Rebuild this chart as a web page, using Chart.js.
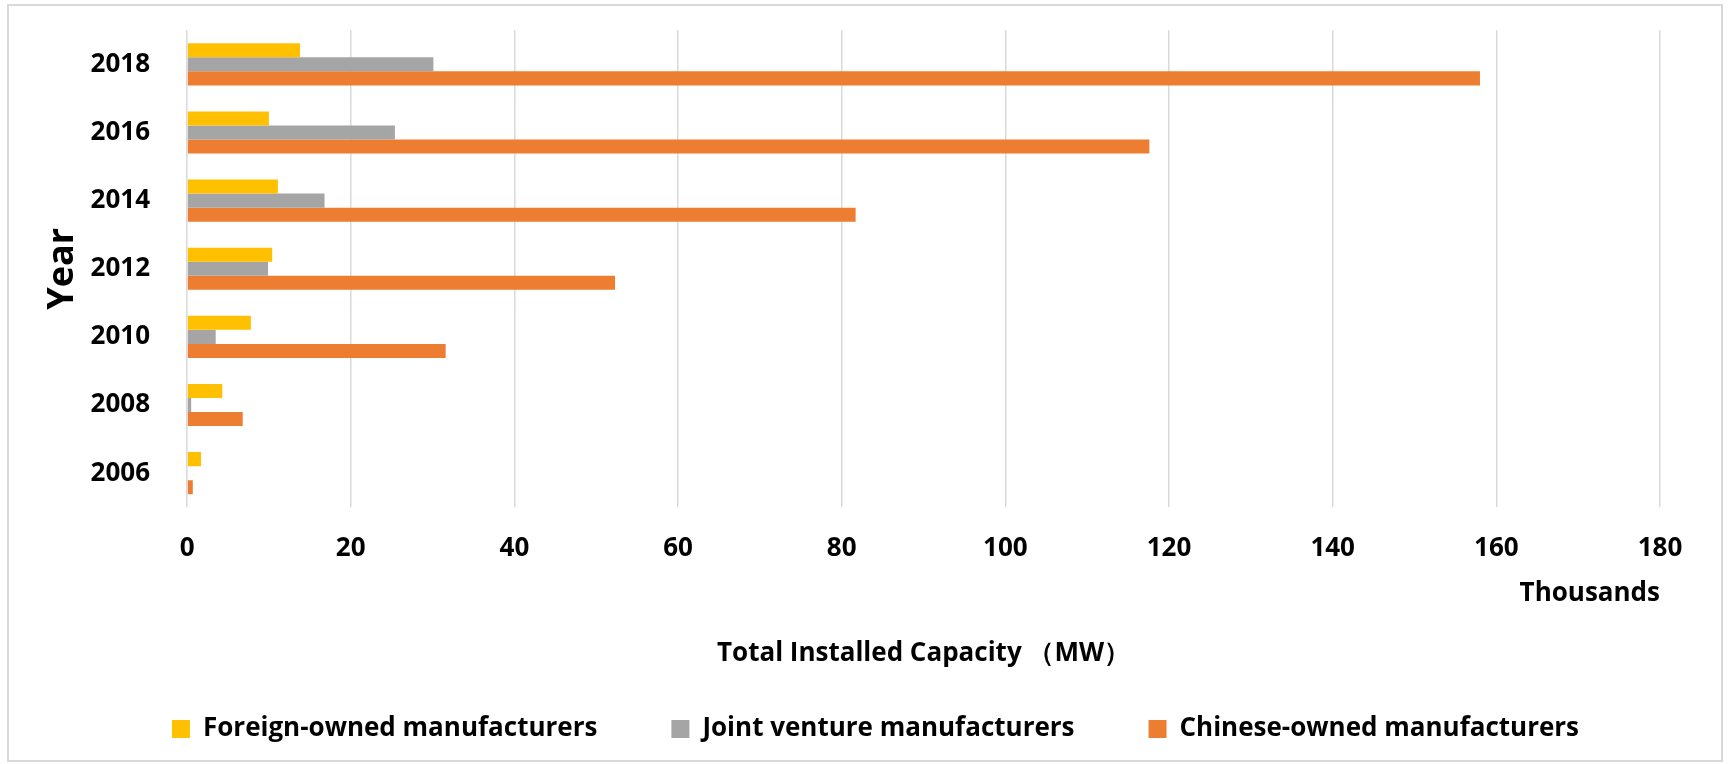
<!DOCTYPE html>
<html>
<head>
<meta charset="utf-8">
<script src="https://cdn.jsdelivr.net/npm/chart.js@4.4.1/dist/chart.umd.min.js"></script>
<style>
html,body{margin:0;padding:0;background:#fff;}
#wrap{width:1730px;height:764px;position:relative;}
canvas{display:block;}
</style>
</head>
<body>
<div id="wrap"><canvas id="c" width="1730" height="764"></canvas></div>
<script>
// ---- data (values in thousands of MW) ----
const years = ['2018', '2016', '2014', '2012', '2010', '2008', '2006'];
const foreignOwned = [13.8, 10.0, 11.1, 10.4, 7.8, 4.3, 1.7];
const jointVenture = [30.1, 25.4, 16.8, 9.9, 3.5, 0.5, 0];
const chineseOwned = [158.0, 117.6, 81.7, 52.3, 31.6, 6.8, 0.7];
const seriesNames = ['Foreign-owned manufacturers', 'Joint venture manufacturers', 'Chinese-owned manufacturers'];
const xMin = 0, xMax = 180, xStep = 20;
const yAxisTitle = 'Year';
const unitsLabel = 'Thousands';
const xAxisTitle = 'Total Installed Capacity （MW）';

Chart.defaults.font.family = "'Open Sans', 'Noto Sans', sans-serif";
Chart.defaults.color = '#000';

const frame = {
  id: 'frame',
  beforeDraw(chart) {
    const ctx = chart.ctx;
    ctx.save();
    ctx.fillStyle = '#fff';
    ctx.fillRect(0, 0, chart.width, chart.height);
    ctx.strokeStyle = '#d9d9d9';
    ctx.lineWidth = 2;
    ctx.strokeRect(8, 5, 1714, 756);
    ctx.restore();
  }
};

new Chart(document.getElementById('c'), {
  type: 'bar',
  data: {
    labels: years,
    datasets: [
      { label: seriesNames[0], data: foreignOwned, backgroundColor: '#FFC000', borderWidth: 0 },
      { label: seriesNames[1], data: jointVenture, backgroundColor: '#A5A5A5', borderWidth: 0 },
      { label: seriesNames[2], data: chineseOwned, backgroundColor: '#ED7D31', borderWidth: 0 }
    ]
  },
  options: {
    indexAxis: 'y',
    responsive: false,
    animation: false,
    datasets: { bar: { categoryPercentage: 0.617, barPercentage: 1.0 } },
    layout: { padding: { left: 91, right: 70, top: 28, bottom: 12 } },
    scales: {
      x: {
        type: 'linear',
        position: 'bottom',
        min: xMin, max: xMax,
        ticks: { stepSize: xStep, padding: 25.4, font: { size: 26, weight: 'bold' }, color: '#000' },
        grid: { color: '#d9d9d9', lineWidth: 1.5, drawTicks: false },
        border: { display: false },
        title: { display: true, text: unitsLabel, align: 'end', color: '#000',
                 font: { size: 26, weight: 'bold' }, padding: { top: -11.6, bottom: 0 } }
      },
      y: {
        type: 'category',
        grid: { display: false },
        border: { display: false },
        ticks: { padding: 29, font: { size: 26, weight: 'bold', lineHeight: 0.1 }, color: '#000' },
        title: { display: true, text: yAxisTitle, color: '#000',
                 font: { size: 36, weight: 'bold' }, padding: { top: -49.6, bottom: -23 } }
      }
    },
    plugins: {
      tooltip: { enabled: false },
      title: {
        display: true, position: 'bottom', weight: 500, fullSize: false, text: xAxisTitle, color: '#000',
        font: { size: 26, weight: 'bold' }, padding: { top: 29, bottom: -27 }
      },
      legend: {
        position: 'bottom',
        align: 'center',
        labels: { boxWidth: 18, boxHeight: 18, padding: 74, color: '#000',
                  font: { size: 26, weight: 'bold' } }
      }
    }
  },
  plugins: [frame]
});
</script>
</body>
</html>
